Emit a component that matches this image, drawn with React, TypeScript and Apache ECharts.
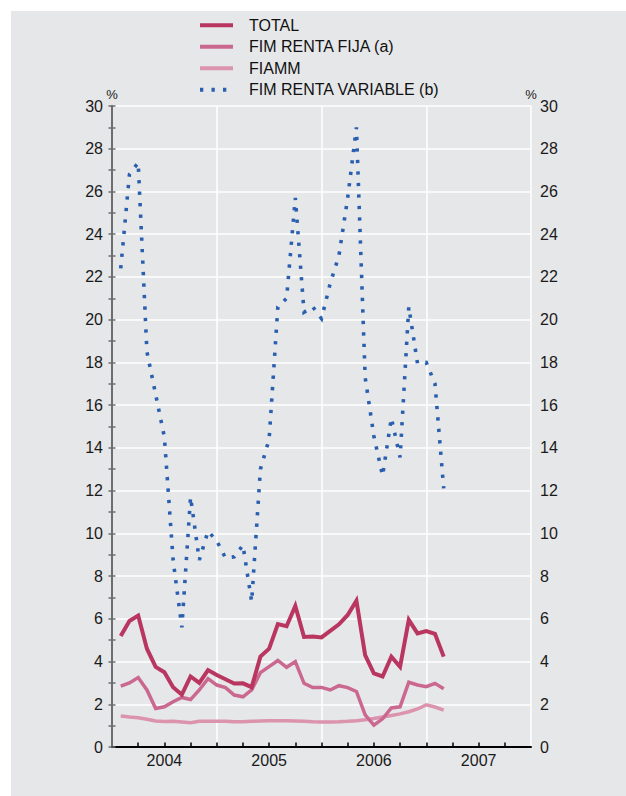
import React, { useEffect, useRef } from "react";
import * as echarts from "echarts";

// Monthly data, Jan 2004 .. Feb 2007 (month-end points)
const seriesNames = ["TOTAL", "FIM RENTA FIJA (a)", "FIAMM", "FIM RENTA VARIABLE (b)"];

const totalValues = [
  5.2, 5.9, 6.15, 4.6, 3.75, 3.5, 2.8, 2.45, 3.3, 3.0, 3.6, 3.37,
  3.17, 2.97, 2.98, 2.8, 4.23, 4.6, 5.75, 5.65, 6.6, 5.15, 5.17, 5.13,
  5.43, 5.74, 6.18, 6.85, 4.3, 3.45, 3.3, 4.23, 3.75, 5.95, 5.32, 5.43,
  5.3, 4.23,
];

const rentaFijaValues = [
  2.85, 3.0, 3.25, 2.67, 1.8, 1.88, 2.12, 2.32, 2.22, 2.67, 3.2, 2.9,
  2.78, 2.43, 2.35, 2.67, 3.48, 3.76, 4.05, 3.73, 4.0, 2.98, 2.78, 2.79,
  2.67, 2.87, 2.78, 2.6, 1.5, 1.02, 1.32, 1.83, 1.88, 3.03, 2.9, 2.82,
  2.98, 2.73,
];

const fiammValues = [
  1.45, 1.4, 1.37, 1.3, 1.22, 1.19, 1.2, 1.17, 1.14, 1.2, 1.2, 1.2,
  1.2, 1.18, 1.18, 1.2, 1.22, 1.23, 1.23, 1.23, 1.22, 1.2, 1.18, 1.17,
  1.17, 1.18, 1.2, 1.23, 1.27, 1.33, 1.4, 1.47, 1.55, 1.65, 1.78, 1.97,
  1.87, 1.73,
];

const rentaVariableValues = [
  22.4, 26.8, 27.35, 18.5, 16.5, 14.5, 8.75, 5.6, 11.7, 8.75, 10.1, 9.65,
  8.85, 8.9, 9.45, 6.8, 13.0, 14.4, 20.6, 21.0, 25.7, 20.35, 20.6, 20.05,
  21.7, 23.0, 25.7, 29.0, 17.3, 14.55, 12.7, 15.4, 13.55, 20.6, 17.95, 18.0,
  17.0, 12.1,
];

const yearLabels = ["2004", "2005", "2006", "2007"];
const unitLabel = "%";

const colors = ["#b8365f", "#cb6890", "#dc93ac", "#2a5fb0"];
const FONT = "'Liberation Sans', Arial, Helvetica, sans-serif";

// x position = months elapsed since 1 Jan 2004 (value at month end)
const toPoints = (vals: number[]) => vals.map((v, i) => [i + 1, v]);

const GRID = { left: 101, right: 95, top: 95, bottom: 49 };
const CHART_W = 615;

export default function App() {
  const ref = useRef<HTMLDivElement>(null);

  useEffect(() => {
    if (!ref.current) return;
    const chart = echarts.init(ref.current, undefined, { renderer: "svg" });

    const axisGray = "#6d6e71";
    const yAxisBase = (position: "left" | "right", withSplit: boolean) => ({
      type: "value",
      position,
      min: 0,
      max: 30,
      interval: 2,
      axisLine: { show: true, lineStyle: { color: axisGray, width: 2 } },
      axisTick: { show: true, inside: true, length: 3.5, lineStyle: { color: axisGray, width: 1.5 } },
      minorTick: { show: true, splitNumber: 2, length: 3.5, lineStyle: { color: axisGray, width: 1.5 } },
      axisLabel: { fontSize: 16, color: "#1a1a1a", fontFamily: FONT, margin: 9 },
      splitLine: { show: withSplit, lineStyle: { color: "#ffffff", width: 1.5 } },
    });

    const lineSeries = (idx: number, vals: number[], width: number, extra: any = {}) => ({
      name: seriesNames[idx],
      type: "line",
      xAxisIndex: 0,
      yAxisIndex: 0,
      data: toPoints(vals),
      symbol: "none",
      color: colors[idx],
      lineStyle: { color: colors[idx], width, join: "miter", miterLimit: 10, ...extra },
    });

    const unitText = (x: number) => ({
      type: "text",
      x,
      y: GRID.top - 11.5,
      silent: true,
      style: {
        text: unitLabel,
        fontSize: 13,
        fontFamily: FONT,
        fill: "#1a1a1a",
        align: "center",
        verticalAlign: "middle",
      },
    });

    chart.setOption({
      animation: false,
      backgroundColor: "#e6e7e9",
      textStyle: { fontFamily: FONT },
      legend: {
        orient: "vertical",
        left: 187,
        top: 6.3,
        padding: 0,
        itemWidth: 33,
        itemHeight: 14,
        itemGap: 5.5,
        itemStyle: { opacity: 0, color: "rgba(0,0,0,0)", borderWidth: 0 },
        lineStyle: { width: 4 },
        textStyle: { fontSize: 16, color: "#111111", fontFamily: FONT, padding: [0, 0, 0, 11] },
        data: seriesNames,
      },
      graphic: [unitText(GRID.left), unitText(CHART_W - GRID.right)],
      grid: { ...GRID, containLabel: false },
      xAxis: [
        {
          type: "value",
          min: 0,
          max: 48,
          interval: 3,
          position: "bottom",
          axisLine: { show: true, lineStyle: { color: "#000000", width: 2 } },
          axisTick: { show: true, inside: true, length: 4.5, lineStyle: { color: "#000000", width: 1.5 } },
          axisLabel: {
            fontSize: 16,
            color: "#1a1a1a",
            fontFamily: FONT,
            margin: 5,
            showMinLabel: false,
            showMaxLabel: false,
            formatter: (v: number) => (v % 12 === 6 ? yearLabels[(v - 6) / 12] : ""),
          },
          splitLine: { show: false },
        },
        {
          type: "value",
          min: 0,
          max: 48,
          interval: 12,
          position: "bottom",
          axisLine: { show: false },
          axisTick: { show: false },
          axisLabel: { show: false },
          splitLine: { show: true, lineStyle: { color: "#ffffff", width: 1.5 } },
        },
      ],
      yAxis: [yAxisBase("left", true), yAxisBase("right", false)],
      series: [
        { ...lineSeries(0, totalValues, 4), z: 5 },
        { ...lineSeries(1, rentaFijaValues, 3.5), z: 4 },
        { ...lineSeries(2, fiammValues, 3.5), z: 3 },
        { ...lineSeries(3, rentaVariableValues, 3.6, { type: [3.3, 8.2], cap: "butt" }), z: 6 },
      ],
    });

    return () => chart.dispose();
  }, []);

  return (
    <div style={{ position: "absolute", left: 0, top: 0, width: 626, height: 796, background: "#ffffff" }}>
      <div
        ref={ref}
        style={{ position: "absolute", left: 11, top: 11, width: CHART_W, height: 785, background: "#e6e7e9" }}
      />
    </div>
  );
}
